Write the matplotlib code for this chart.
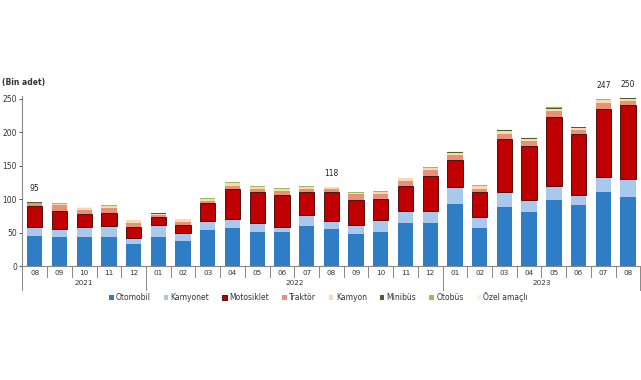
import matplotlib
matplotlib.use("Agg")
import matplotlib.pyplot as plt
import numpy as np

months = ["08", "09", "10", "11", "12",
          "01", "02", "03", "04", "05", "06", "07", "08", "09", "10", "11", "12",
          "01", "02", "03", "04", "05", "06", "07", "08"]
years = ["2021", "2022", "2023"]
year_counts = [5, 12, 8]

otomobil = [45.4, 43.9, 43.9, 43.9, 32.5, 43.9, 37.9, 53.4, 57.3, 51.3, 50.4, 60.3, 55.8,
            47.9, 51.3, 64.4, 64.8, 92.4, 56.9, 88.8, 80.8, 98.8, 90.9, 110.8, 103.3]
kamyonet = [13.4, 11.5, 14.5, 16.4, 9.9, 17.0, 11.1, 14.4, 13.5, 12.6, 8.4, 16.5, 12.0,
            13.9, 17.6, 17.9, 17.1, 25.4, 16.0, 22.4, 18.0, 21.0, 14.9, 22.4, 26.5]
motosiklet = [31.0, 27.4, 19.4, 19.5, 15.5, 12.9, 12.8, 26.1, 44.0, 46.4, 47.9, 34.4, 43.4,
              37.5, 31.0, 37.5, 52.8, 40.9, 38.3, 78.5, 81.3, 103.7, 91.4, 102.3, 111.7]
traktor = [4.1, 8.1, 6.0, 6.6, 6.0, 3.0, 4.1, 3.9, 5.4, 5.4, 5.6, 4.5, 4.1,
           8.0, 7.9, 7.9, 9.0, 7.0, 4.5, 8.3, 7.0, 8.1, 6.4, 8.1, 6.0]
kamyon = [1.0, 2.4, 2.4, 2.8, 4.4, 1.6, 3.9, 2.3, 3.9, 3.0, 3.4, 3.0, 2.9,
          2.4, 3.4, 3.9, 2.4, 3.3, 4.5, 3.9, 3.5, 3.9, 3.4, 5.3, 2.9]
minibus = [0.2, 0.2, 0.6, 0.8, 0.2, 0.4, 0.2, 0.6, 0.6, 0.2, 0.2, 0.2, 0.2,
           0.2, 0.2, 0.2, 0.8, 1.0, 0.2, 1.0, 0.8, 1.6, 0.6, 0.2, 0.6]
otobus = [0.2, 0.2, 0.5, 0.6, 0.2, 0.3, 0.2, 0.6, 0.6, 0.2, 0.2, 0.2, 0.2,
          0.2, 0.2, 0.2, 0.6, 0.8, 0.2, 0.8, 0.6, 1.5, 0.5, 0.2, 0.5]
ozel = [0.2, 0.2, 0.4, 0.6, 0.2, 0.2, 0.2, 0.6, 0.4, 0.2, 0.2, 0.2, 0.2,
        0.2, 0.2, 0.2, 0.6, 0.8, 0.2, 0.8, 0.6, 1.4, 0.5, 0.2, 0.5]

series_names = ["Otomobil", "Kamyonet", "Motosiklet", "Traktör", "Kamyon",
                "Minibüs", "Otobüs", "Özel amaçlı"]
series = [otomobil, kamyonet, motosiklet, traktor, kamyon, minibus, otobus, ozel]
colors = ["#2F7DC4", "#A9C8EE", "#C00000", "#E8917A", "#F9D9B0",
          "#4F5F2A", "#9BBB59", "#FFF2CC"]

label_idx = [0, 12, 23, 24]
label_txt = ["95", "118", "247", "250"]

fig = plt.figure(figsize=(6.41, 3.80), dpi=100)
ax = fig.add_axes([0.035, 0.30, 0.964, 0.4466])

x = np.arange(len(months))
bottom = np.zeros(len(months))
handles = []
for name, vals, c in zip(series_names, series, colors):
    v = np.array(vals)
    if name == "Motosiklet":
        b = ax.bar(x, v, 0.62, bottom=bottom, color=c, edgecolor="#3a0000", linewidth=0.6, label=name)
    else:
        b = ax.bar(x, v, 0.62, bottom=bottom, color=c, edgecolor="none", linewidth=0, label=name)
    handles.append(b)
    bottom += v

for i, t in zip(label_idx, label_txt):
    ax.annotate(t, (x[i], bottom[i]), xytext=(0, 6.5), textcoords="offset points",
                ha="center", va="bottom", fontsize=5.5, color="#222222")

ax.set_xlim(-0.5, len(months) - 0.5)
ax.set_ylim(0, 254)
ax.set_yticks([0, 50, 100, 150, 200, 250])
ax.tick_params(axis="y", labelsize=5.5, length=2, width=0.6, pad=2, colors="#333333")
ax.set_xticks([])
for s in ["top", "right"]:
    ax.spines[s].set_visible(False)
ax.spines["left"].set_color("#888888")
ax.spines["left"].set_linewidth(0.8)
ax.spines["bottom"].set_color("#888888")
ax.spines["bottom"].set_linewidth(0.8)

trans = ax.get_xaxis_transform()
for i, m in enumerate(months):
    ax.text(x[i], -0.04, m, transform=trans, ha="center", va="center", fontsize=5.2, color="#333333")
boundaries = np.cumsum([0] + year_counts) - 0.5
for k in range(len(months) + 1):
    xb = k - 0.5
    long = np.any(np.isclose(boundaries, xb))
    y2 = -0.14 if long else -0.065
    ax.plot([xb, xb], [0, y2], transform=trans, color="#888888", lw=0.7, clip_on=False)
start = 0
for yname, cnt in zip(years, year_counts):
    cx = start + (cnt - 1) / 2
    ax.text(cx, -0.10, yname, transform=trans, ha="center", va="center", fontsize=5.2, color="#333333")
    start += cnt

fig.text(0.003, 1 - 83 / 380, "(Bin adet)", ha="left", va="center", fontsize=5.5,
         fontweight="bold", color="#333333")

leg = fig.legend(handles=handles, labels=series_names, loc="center", ncol=8,
                 bbox_to_anchor=(0.497, 0.218), frameon=False, fontsize=5.5,
                 handlelength=0.6, handleheight=0.6, handletextpad=0.3, columnspacing=1.7)
for t in leg.get_texts():
    t.set_color("#333333")

fig.savefig("out.png", dpi=100)
